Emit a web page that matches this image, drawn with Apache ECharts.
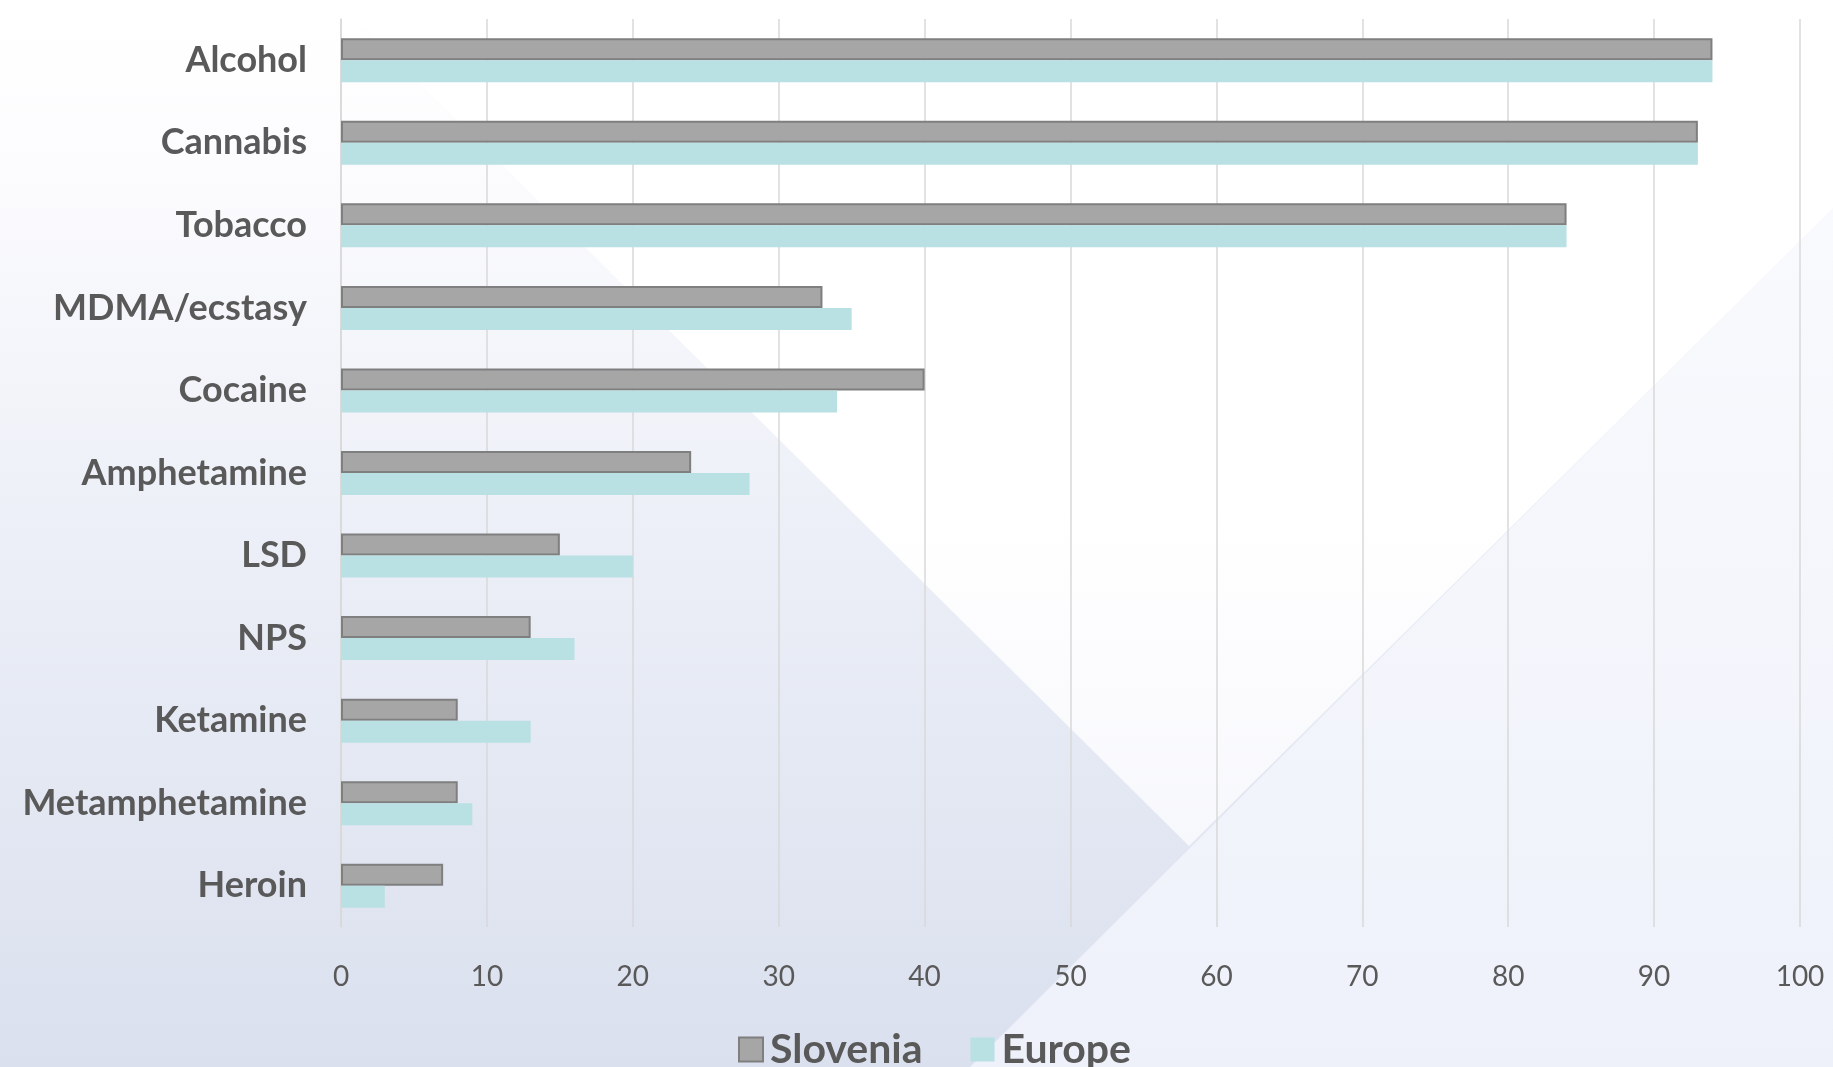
<!DOCTYPE html>
<html>
<head>
<meta charset="utf-8">
<script src="https://cdn.jsdelivr.net/npm/echarts@6/dist/echarts.min.js"></script>
<style>
  html, body { margin: 0; padding: 0; width: 100%; height: 100%; overflow: hidden; }
  #chart { width: 1833px; height: 1067px; }
</style>
</head>
<body>
<div id="chart"></div>
<script>
const categories = ['Alcohol', 'Cannabis', 'Tobacco', 'MDMA/ecstasy', 'Cocaine', 'Amphetamine', 'LSD', 'NPS', 'Ketamine', 'Metamphetamine', 'Heroin'];
const slovenia = [94, 93, 84, 33, 40, 24, 15, 13, 8, 8, 7];
const europe = [94, 93, 84, 35, 34, 28, 20, 16, 13, 9, 3];
const seriesNames = ['Slovenia', 'Europe'];

const chart = echarts.init(document.getElementById('chart'));
const W = 1833, H = 1067;

chart.setOption({
  backgroundColor: '#ffffff',
  graphic: [
    {
      type: 'rect', z: -10, silent: true,
      shape: { x: 0, y: 0, width: W, height: H },
      style: {
        fill: new echarts.graphic.LinearGradient(0, 0, 0, 1, [
          { offset: 0, color: '#ffffff' },
          { offset: 0.15, color: '#fcfcfe' },
          { offset: 0.5, color: '#eceff7' },
          { offset: 1, color: '#dae0ee' }
        ])
      }
    },
    {
      type: 'polygon', z: -9, silent: true,
      shape: { points: [[336, 0], [W, 0], [W, 208], [1189, 846]] },
      style: {
        fill: new echarts.graphic.LinearGradient(0, 0, 0, 1, [
          { offset: 0, color: '#ffffff' },
          { offset: 0.6, color: '#ffffff' },
          { offset: 1, color: '#f7f8fc' }
        ])
      }
    },
    {
      type: 'polygon', z: -9, silent: true,
      shape: { points: [[W, 208], [W, H], [970, H]] },
      style: {
        fill: new echarts.graphic.LinearGradient(0, 0, 0, 1, [
          { offset: 0, color: '#f9fafd' },
          { offset: 1, color: '#eef1fa' }
        ])
      }
    }
  ],
  textStyle: { fontFamily: 'Lato, "Open Sans", sans-serif' },
  legend: {
    data: seriesNames,
    icon: 'rect',
    left: 738,
    top: 1029,
    padding: 0,
    itemWidth: 24,
    itemHeight: 24,
    itemGap: 48,
    textStyle: { fontSize: 41, fontWeight: 'bold', color: '#595959', padding: [0, 0, 0, 2] }
  },
  grid: { left: 341, right: 33, top: 19, bottom: 140, containLabel: false },
  xAxis: {
    type: 'value',
    min: 0, max: 100, interval: 10,
    axisLine: { show: false },
    axisTick: { show: false },
    axisLabel: { fontSize: 28, color: '#595959', margin: 36 },
    splitLine: { show: true, lineStyle: { color: '#d9d9d9', width: 1.5 } }
  },
  yAxis: {
    type: 'category',
    data: categories,
    inverse: true,
    axisLine: { show: true, lineStyle: { color: '#d9d9d9', width: 1.5 } },
    axisTick: { show: false },
    axisLabel: { fontSize: 36, fontWeight: 'bold', color: '#595959', margin: 34 }
  },
  series: [
    {
      name: seriesNames[0], type: 'bar', data: slovenia,
      barWidth: 22, barGap: '0%',
      itemStyle: { color: '#a6a6a6', borderColor: '#7f7f7f', borderWidth: 2 }
    },
    {
      name: seriesNames[1], type: 'bar', data: europe,
      barWidth: 22, barGap: '0%',
      itemStyle: { color: '#b9e0e3' }
    }
  ]
});
</script>
</body>
</html>
